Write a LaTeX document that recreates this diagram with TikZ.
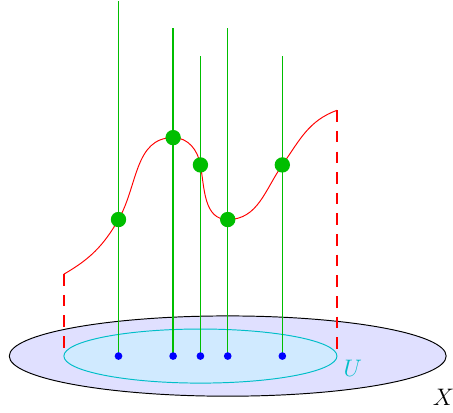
\documentclass[tikz,border=0pt]{standalone}
\usetikzlibrary{calc}
\definecolor{fgreen}{RGB}{0,190,0}
\definecolor{ucyan}{RGB}{0,190,200}
\definecolor{outerfill}{RGB}{224,224,255}
\definecolor{innerfill}{RGB}{208,234,255}
\tikzset{
  fiber/.style={draw=fgreen, line width=1.3pt},
  sect/.style={draw=red, line width=1pt},
  reddash/.style={draw=red, line width=1.4pt, dash pattern=on 12pt off 9.5pt},
  gdot/.style={circle, fill=fgreen, inner sep=0pt, minimum size=16pt},
  bdot/.style={circle, fill=blue, inner sep=0pt, minimum size=8pt},
  lab/.style={font=\fontsize{30}{36}\selectfont}
}
\begin{document}
\begin{tikzpicture}[x=1cm,y=1cm]
\useasboundingbox (-7.34,-2.05) rectangle (9.25,13.04);
% base spaces
\draw[line width=1pt, fill=outerfill] (1,0) ellipse [x radius=8, y radius=1.47];
\draw[draw=ucyan, line width=1pt, fill=innerfill] (0,0) ellipse [x radius=5, y radius=0.99];
% edge coordinates
\coordinate (l0) at (-5,0); \coordinate (l1) at (-5,3);
\coordinate (r0) at (5,0);  \coordinate (r1) at (5,9);
\draw[reddash] (l1) -- (l0);
\draw[reddash] (r1) -- (r0);
% base points and fibre tops
\foreach \n/\x/\t/\s in {a/-3/13/5, b/-1/12/8, c/0/11/7, d/1/12/5, e/3/11/7}{
  \coordinate (\n base) at (\x,0);
  \coordinate (\n top) at (\x,\t);
  \coordinate (\n sec) at (\x,\s);
  \draw[fiber] (\n base) -- (\n top);
}
% section
\draw[sect] (l1) to[out=30,in=240] (asec)
  to[out=60,in=180] (bsec)
  to[out=0,in=100] (csec)
  to[out=-80,in=180] (dsec)
  to[out=0,in=235] (esec)
  to[out=55,in=200] (r1);
\foreach \n in {a,b,c,d,e}{
  \node[gdot] (\n g) at (\n sec) {};
  \node[bdot] (\n p) at (\n base) {};
}
\node[lab, text=ucyan] (U) at (5.58,-0.45) {$U$};
\node[lab] (X) at (8.9,-1.52) {$X$};
\end{tikzpicture}
\end{document}
